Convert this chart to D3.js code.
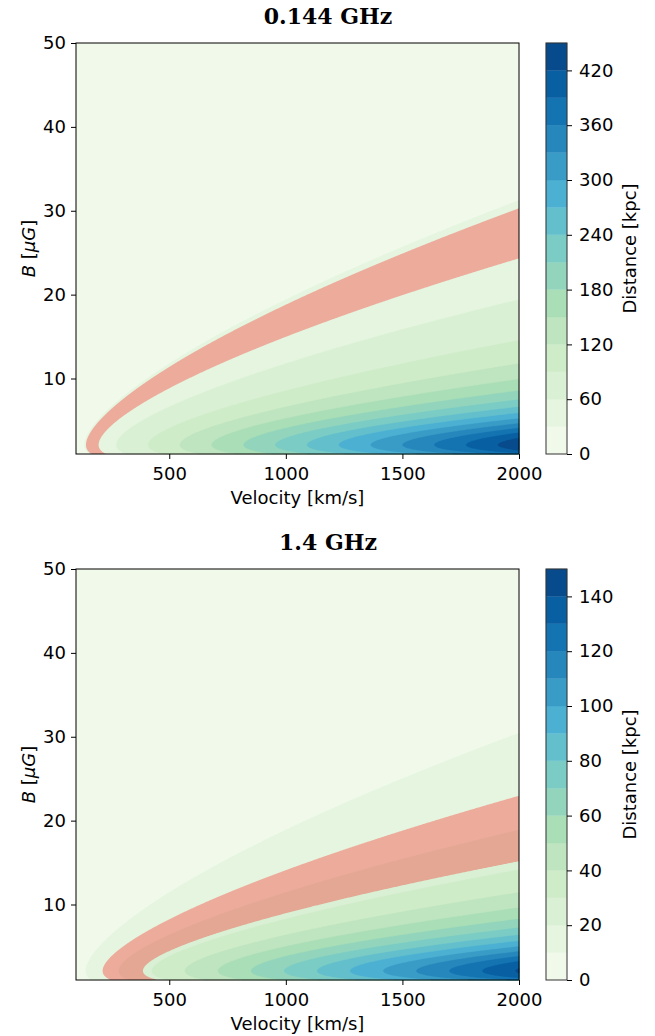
<!DOCTYPE html>
<html>
<head>
<meta charset="utf-8">
<script src="https://cdn.jsdelivr.net/npm/d3@7"></script>
<style>
  body { margin: 0; background: #fff; }
  text { font-family: "DejaVu Sans", sans-serif; }
</style>
</head>
<body>
<div id="chart"></div>
<script>
// panels
const titles = ["0.144 GHz", "1.4 GHz"];
const freqsMHz = [144, 1400];
const levels = [
  [0, 30, 60, 90, 120, 150, 180, 210, 240, 270, 300, 330, 360, 390, 420, 450],
  [0, 10, 20, 30, 40, 50, 60, 70, 80, 90, 100, 110, 120, 130, 140, 150]
];
const cbTicks = [
  [0, 60, 120, 180, 240, 300, 360, 420],
  [0, 20, 40, 60, 80, 100, 120, 140]
];
// observed distance range shown in red [kpc]
const redBands = [[31.4, 43.3], [15.1, 27.3]];

const velocityDomain = [100, 2000];
const bDomain = [1, 50];
const xTicks = [500, 1000, 1500, 2000];
const yTicks = [10, 20, 30, 40, 50];
const gnbu = ["#f7fcf0", "#e0f3db", "#ccebc5", "#a8ddb5", "#7bccc4", "#4eb3d3", "#2b8cbe", "#0868ac", "#084081"];

// radiative age model (synchrotron + inverse Compton)
const redshift = 0.055;
const bCmb0 = 3.25;          // uG
const tAge0 = 3.2e4;         // Myr, nu in MHz
const kmsToKpcPerMyr = 1.0227e-3;

function distance(v, B, nu) {
  const bic = bCmb0 * (1 + redshift) ** 2;
  const t = tAge0 * Math.sqrt(B) / (B * B + bic * bic) / Math.sqrt(nu * (1 + redshift));
  return v * kmsToKpcPerMyr * t;
}

const W = 655, H = 1036;
const x0 = 76, pw = 443, ph = 411;
const panelTops = [43, 569];
const cbX = 546, cbW = 21;
const fontSize = 18;

const svg = d3.select("#chart").append("svg")
  .attr("width", W)
  .attr("height", H);
svg.append("rect").attr("width", W).attr("height", H).attr("fill", "#fff");

const cmap = d3.scaleLinear()
  .domain(gnbu.map((c, i) => i / (gnbu.length - 1)))
  .range(gnbu)
  .interpolate(d3.interpolateRgb);

titles.forEach((title, p) => drawPanel(p, panelTops[p]));

function drawPanel(p, oy) {
  const lv = levels[p];
  const nu = freqsMHz[p];
  const nBands = lv.length - 1;
  const bandColor = i => cmap((i + 0.5) / nBands);

  const x = d3.scaleLinear().domain(velocityDomain).range([x0, x0 + pw]);
  const y = d3.scaleLinear().domain(bDomain).range([oy + ph, oy]);

  // grid, one cell per pixel, row 0 at top
  const nx = pw, ny = ph;
  const values = new Float64Array(nx * ny);
  for (let j = 0; j < ny; j++) {
    const B = y.invert(oy + j + 0.5);
    for (let i = 0; i < nx; i++) {
      const v = x.invert(x0 + i + 0.5);
      values[j * nx + i] = distance(v, B, nu);
    }
  }

  const g = svg.append("g").attr("transform", `translate(${x0},${oy})`);
  const path = d3.geoPath();

  const filled = d3.contours().size([nx, ny]).thresholds(lv.slice(0, -1))(values);
  g.selectAll("path.band")
    .data(filled)
    .enter()
    .append("path")
    .attr("class", "band")
    .attr("d", path)
    .attr("fill", (d, i) => bandColor(i))
    .attr("stroke", (d, i) => bandColor(i))
    .attr("stroke-width", 0.3);

  // red band between the two distances
  const red = d3.contours().size([nx, ny]).thresholds(redBands[p])(values);
  g.append("path")
    .attr("d", path(red[0]) + path(red[1]))
    .attr("fill", "red")
    .attr("fill-opacity", 0.3)
    .attr("fill-rule", "evenodd");

  // frame
  svg.append("rect")
    .attr("x", x0).attr("y", oy)
    .attr("width", pw).attr("height", ph)
    .attr("fill", "none")
    .attr("stroke", "#000")
    .attr("stroke-width", 1);

  const xAxis = svg.append("g")
    .attr("transform", `translate(0,${oy + ph})`)
    .call(d3.axisBottom(x).tickValues(xTicks).tickFormat(d3.format("d"))
      .tickSize(5).tickPadding(8).tickSizeOuter(0));
  const yAxis = svg.append("g")
    .attr("transform", `translate(${x0},0)`)
    .call(d3.axisLeft(y).tickValues(yTicks).tickSize(5).tickPadding(5).tickSizeOuter(0));
  [xAxis, yAxis].forEach(a => {
    a.select(".domain").remove();
    a.selectAll("text").style("font-size", fontSize + "px").attr("fill", "#000")
      .style("font-family", "DejaVu Sans");
    a.selectAll("line").attr("stroke", "#000");
  });

  svg.append("text")
    .attr("x", x0 + pw / 2)
    .attr("y", oy + ph + 50)
    .attr("text-anchor", "middle")
    .style("font-size", fontSize + "px")
    .text("Velocity [km/s]");

  const yl = svg.append("text")
    .attr("transform", `translate(35,${oy + ph / 2}) rotate(-90)`)
    .attr("text-anchor", "middle")
    .style("font-size", fontSize + "px");
  yl.append("tspan").style("font-style", "italic").text("B");
  yl.append("tspan").text(" [");
  yl.append("tspan").style("font-style", "italic").text("\u03bcG");
  yl.append("tspan").text("]");

  svg.append("text")
    .attr("x", 328)
    .attr("y", oy - 19)
    .attr("text-anchor", "middle")
    .style("font-family", "DejaVu Serif")
    .style("font-weight", "bold")
    .style("font-size", "22px")
    .text(titles[p]);

  // colorbar
  const cb = d3.scaleLinear().domain([lv[0], lv[lv.length - 1]]).range([oy + ph, oy]);
  svg.selectAll(null)
    .data(d3.range(nBands))
    .enter()
    .append("rect")
    .attr("x", cbX)
    .attr("width", cbW)
    .attr("y", i => cb(lv[i + 1]))
    .attr("height", i => cb(lv[i]) - cb(lv[i + 1]))
    .attr("fill", i => bandColor(i))
    .attr("stroke", i => bandColor(i))
    .attr("stroke-width", 0.3);
  svg.append("rect")
    .attr("x", cbX).attr("y", oy)
    .attr("width", cbW).attr("height", ph)
    .attr("fill", "none")
    .attr("stroke", "#333")
    .attr("stroke-width", 1);
  const cbAxis = svg.append("g")
    .attr("transform", `translate(${cbX + cbW},0)`)
    .call(d3.axisRight(cb).tickValues(cbTicks[p]).tickSize(5).tickPadding(7).tickSizeOuter(0));
  cbAxis.select(".domain").remove();
  cbAxis.selectAll("text").style("font-size", fontSize + "px").attr("fill", "#000")
    .style("font-family", "DejaVu Sans");
  cbAxis.selectAll("line").attr("stroke", "#000");

  svg.append("text")
    .attr("transform", `translate(636,${oy + ph / 2}) rotate(-90)`)
    .attr("text-anchor", "middle")
    .style("font-size", fontSize + "px")
    .text("Distance [kpc]");
}
</script>
</body>
</html>
